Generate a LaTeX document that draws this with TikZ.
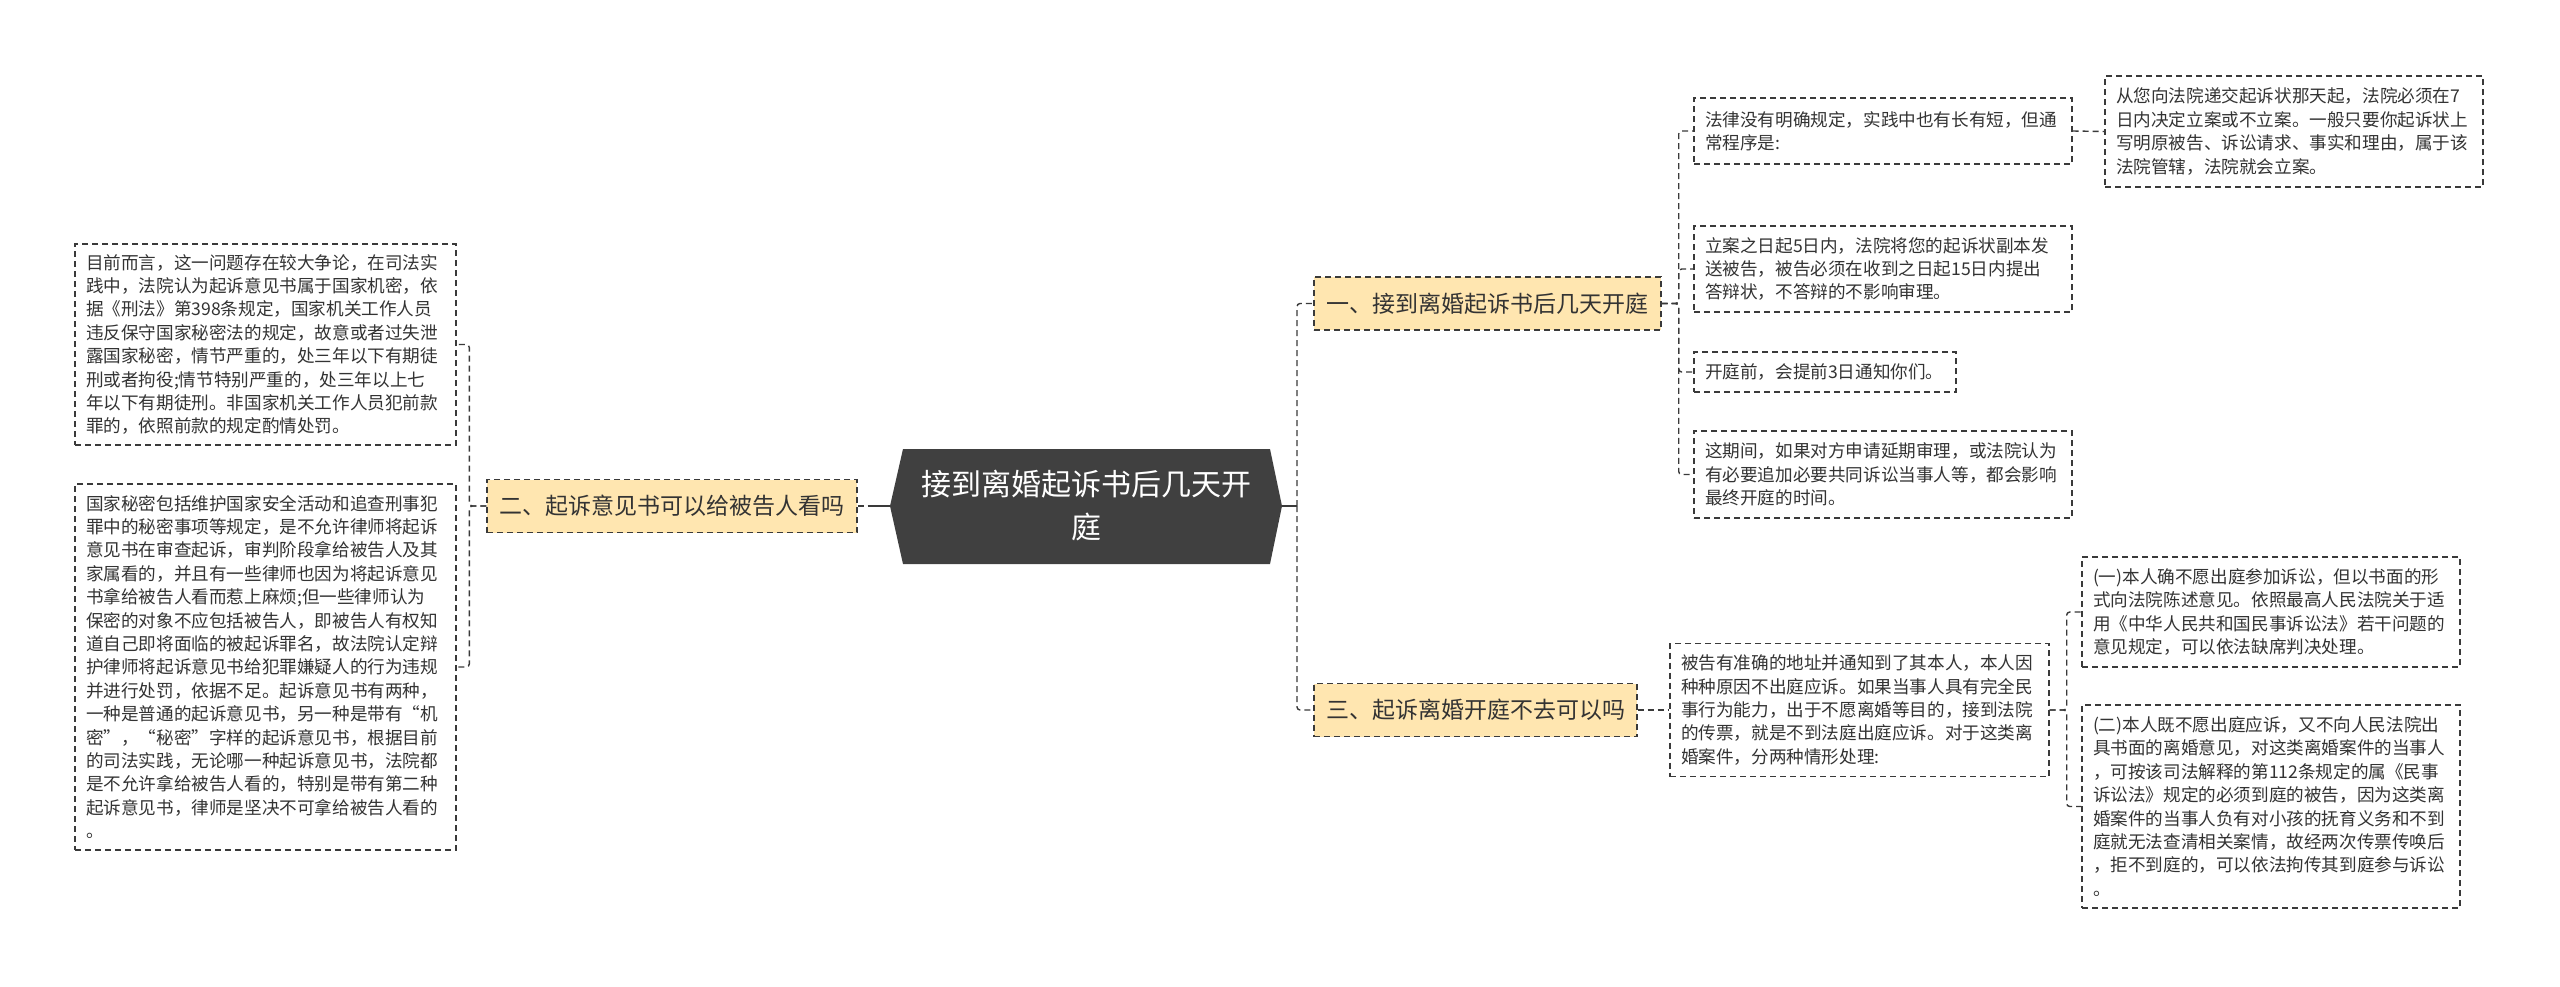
\documentclass[tikz,border=0pt]{standalone}
\usepackage{fontspec}
\setmainfont{Noto Sans CJK SC}
\usetikzlibrary{calc}
\definecolor{rootfill}{HTML}{404040}
\definecolor{yel}{HTML}{FFE6B0}
\definecolor{txt}{HTML}{333333}
\definecolor{edge}{HTML}{3A3A3A}
\begin{document}
\begin{tikzpicture}[x=1pt,y=-1pt,
  tbox/.style={draw=edge, line width=1.4pt, dash pattern=on 6pt off 4pt,
    inner xsep=11pt, inner ysep=0pt, align=left, text=txt,
    font=\fontsize{17.6}{23.4}\selectfont},
  ybox/.style={draw=edge, fill=yel, line width=1.4pt, dash pattern=on 6pt off 4pt,
    inner xsep=8pt, inner ysep=0pt, align=center, text=txt,
    minimum height=53pt, font=\fontsize{23}{28}\selectfont},
  link/.style={draw=edge, line width=1.4pt, dash pattern=on 6pt off 4pt, rounded corners=3pt},
  rootlink/.style={draw=edge, line width=2pt},
  roottext/.style={text=white, align=center, font=\fontsize{30}{43}\selectfont}
]
\useasboundingbox (0,0) rectangle (2560,986);
\fill[white] (0,0) rectangle (2560,986);

% root hexagon
\coordinate (rNW) at (903,449);
\coordinate (rNE) at (1270,449);
\coordinate (rE) at (1282,506);
\coordinate (rSE) at (1270,564);
\coordinate (rSW) at (903,564);
\coordinate (rW) at (890,506);
\fill[rootfill] (rNW) -- (rNE) -- (rE) -- (rSE) -- (rSW) -- (rW) -- cycle;
\node[roottext] (root) at (1086,506) {接到离婚起诉书后几天开\\庭};

% left branch
\node[ybox, minimum width=370pt] (Ly) at (672,506) {二、起诉意见书可以给被告人看吗};
\node[tbox, text width=359pt, minimum height=201pt] (L1) at (265.5,344.5) {目前而言，这一问题存在较大争论，在司法实\\践中，法院认为起诉意见书属于国家机密，依\\据《刑法》第398条规定，国家机关工作人员\\违反保守国家秘密法的规定，故意或者过失泄\\露国家秘密，情节严重的，处三年以下有期徒\\刑或者拘役;情节特别严重的，处三年以上七\\年以下有期徒刑。非国家机关工作人员犯前款\\罪的，依照前款的规定酌情处罚。};
\node[tbox, text width=359pt, minimum height=366pt] (L2) at (265.5,667) {国家秘密包括维护国家安全活动和追查刑事犯\\罪中的秘密事项等规定，是不允许律师将起诉\\意见书在审查起诉，审判阶段拿给被告人及其\\家属看的，并且有一些律师也因为将起诉意见\\书拿给被告人看而惹上麻烦;但一些律师认为\\保密的对象不应包括被告人，即被告人有权知\\道自己即将面临的被起诉罪名，故法院认定辩\\护律师将起诉意见书给犯罪嫌疑人的行为违规\\并进行处罚，依据不足。起诉意见书有两种，\\一种是普通的起诉意见书，另一种是带有“机\\密”，“秘密”字样的起诉意见书，根据目前\\的司法实践，无论哪一种起诉意见书，法院都\\是不允许拿给被告人看的，特别是带有第二种\\起诉意见书，律师是坚决不可拿给被告人看的\\。};

% right level 1
\node[ybox, minimum width=347pt] (Y1) at (1487.5,303.5) {一、接到离婚起诉书后几天开庭};
\node[ybox, minimum width=323pt] (Y3) at (1475.5,710) {三、起诉离婚开庭不去可以吗};

% children of Y1
\node[tbox, text width=356pt, minimum height=66pt] (A) at (1883,131) {法律没有明确规定，实践中也有长有短，但通\\常程序是:};
\node[tbox, text width=356pt, minimum height=111pt] (A1) at (2294,131.5) {从您向法院递交起诉状那天起，法院必须在7\\日内决定立案或不立案。一般只要你起诉状上\\写明原被告、诉讼请求、事实和理由，属于该\\法院管辖，法院就会立案。};
\node[tbox, text width=356pt, minimum height=86pt] (B) at (1883,269) {立案之日起5日内，法院将您的起诉状副本发\\送被告，被告必须在收到之日起15日内提出\\答辩状，不答辩的不影响审理。};
\node[tbox, text width=240pt, minimum height=40pt] (C) at (1825,372) {开庭前，会提前3日通知你们。};
\node[tbox, text width=356pt, minimum height=87pt] (D) at (1883,474.5) {这期间，如果对方申请延期审理，或法院认为\\有必要追加必要共同诉讼当事人等，都会影响\\最终开庭的时间。};

% children of Y3
\node[tbox, text width=357pt, minimum height=133pt] (T3) at (1859.5,710) {被告有准确的地址并通知到了其本人，本人因\\种种原因不出庭应诉。如果当事人具有完全民\\事行为能力，出于不愿离婚等目的，接到法院\\的传票，就是不到法庭出庭应诉。对于这类离\\婚案件，分两种情形处理:};
\node[tbox, text width=356pt, minimum height=110pt] (E) at (2271,612) {(一)本人确不愿出庭参加诉讼，但以书面的形\\式向法院陈述意见。依照最高人民法院关于适\\用《中华人民共和国民事诉讼法》若干问题的\\意见规定，可以依法缺席判决处理。};
\node[tbox, text width=356pt, minimum height=203pt] (F) at (2271,806.5) {(二)本人既不愿出庭应诉，又不向人民法院出\\具书面的离婚意见，对这类离婚案件的当事人\\，可按该司法解释的第112条规定的属《民事\\诉讼法》规定的必须到庭的被告，因为这类离\\婚案件的当事人负有对小孩的抚育义务和不到\\庭就无法查清相关案情，故经两次传票传唤后\\，拒不到庭的，可以依法拘传其到庭参与诉讼\\。};

% connectors
\draw[link] (Ly.east) -- (rW);
\draw[rootlink] (rW) -- ++(-18,0);
\draw[link] (Ly.west) -- ++(-17,0) |- (L1.east);
\draw[link] (Ly.west) -- ++(-17,0) |- (L2.east);

\draw[rootlink] (rE) -- ++(15,0);
\draw[link] (rE) ++(15,0) |- (Y1.west);
\draw[link] (rE) ++(15,0) |- (Y3.west);

\draw[link] (Y1.east) -- ++(17,0) |- (A.west);
\draw[link] (Y1.east) -- ++(17,0) |- (B.west);
\draw[link] (Y1.east) -- ++(17,0) |- (C.west);
\draw[link] (Y1.east) -- ++(17,0) |- (D.west);
\draw[link] (A.east) -- (A1.west);

\draw[link] (Y3.east) -- (T3.west);
\draw[link] (T3.east) -- ++(17,0) |- (E.west);
\draw[link] (T3.east) -- ++(17,0) |- (F.west);
\end{tikzpicture}
\end{document}
